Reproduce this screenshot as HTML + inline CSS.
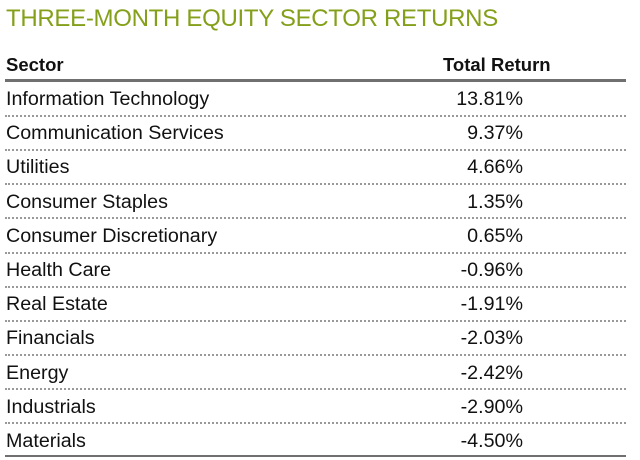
<!DOCTYPE html>
<html><head><style>
body{margin:0;width:640px;height:460px;background:#fff;font-family:"Liberation Sans",sans-serif;position:relative;overflow:hidden}
.t{position:absolute;left:6px;top:5px;font-size:24px;color:#84a01a;letter-spacing:-0.3px;white-space:nowrap}
.h{position:absolute;top:54px;font-size:18.5px;font-weight:bold;color:#111;white-space:nowrap}
.r{position:absolute;left:6px;width:620px;height:34px;font-size:19.7px;color:#111}
.r span{position:absolute;top:6px;white-space:nowrap}
.r .v{right:103px}
.d{position:absolute;left:5px;width:621px;border-top:2px dotted #999}
</style></head><body>
<div class="t">THREE-MONTH EQUITY SECTOR RETURNS</div>
<div class="h" style="left:6px">Sector</div>
<div class="h" style="left:443px">Total Return</div>
<div style="position:absolute;left:5px;top:79px;width:621px;height:3px;background:#707070"></div>
<div class="r" style="top:82px"><span>Information Technology</span><span class="v">13.81%</span></div>
<div class="d" style="top:115px"></div>
<div class="r" style="top:116px"><span>Communication Services</span><span class="v">9.37%</span></div>
<div class="d" style="top:149px"></div>
<div class="r" style="top:150px"><span>Utilities</span><span class="v">4.66%</span></div>
<div class="d" style="top:183px"></div>
<div class="r" style="top:185px"><span>Consumer Staples</span><span class="v">1.35%</span></div>
<div class="d" style="top:217px"></div>
<div class="r" style="top:219px"><span>Consumer Discretionary</span><span class="v">0.65%</span></div>
<div class="d" style="top:252px"></div>
<div class="r" style="top:253px"><span>Health Care</span><span class="v">-0.96%</span></div>
<div class="d" style="top:286px"></div>
<div class="r" style="top:287px"><span>Real Estate</span><span class="v">-1.91%</span></div>
<div class="d" style="top:320px"></div>
<div class="r" style="top:321px"><span>Financials</span><span class="v">-2.03%</span></div>
<div class="d" style="top:354px"></div>
<div class="r" style="top:356px"><span>Energy</span><span class="v">-2.42%</span></div>
<div class="d" style="top:388px"></div>
<div class="r" style="top:390px"><span>Industrials</span><span class="v">-2.90%</span></div>
<div class="d" style="top:422px"></div>
<div class="r" style="top:424px"><span>Materials</span><span class="v">-4.50%</span></div>
<div style="position:absolute;left:5px;top:455px;width:621px;height:2px;background:#707070"></div>
</body></html>
